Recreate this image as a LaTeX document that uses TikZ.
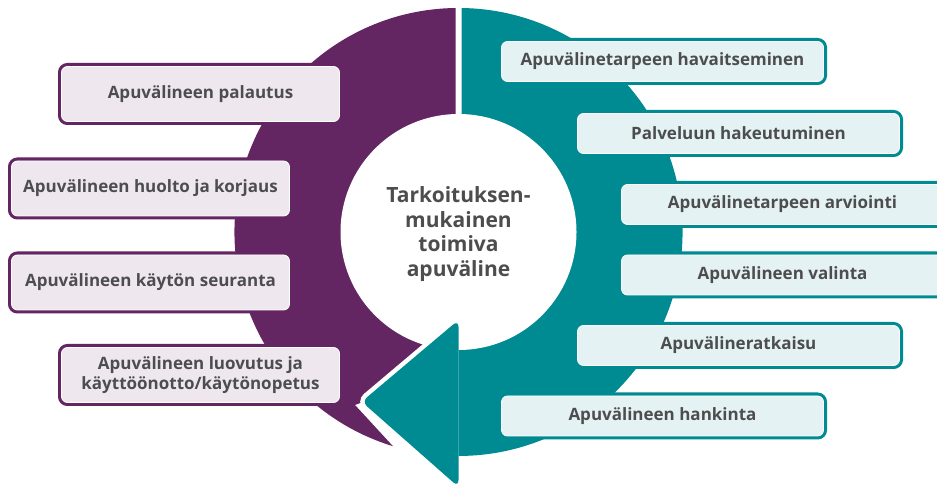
\documentclass[tikz,border=0pt]{standalone}
\usepackage{fontspec}
\setmainfont{Open Sans}
\usepackage{tikz}

\definecolor{ringpurple}{RGB}{100,37,99}
\definecolor{ringteal}{RGB}{0,138,145}
\definecolor{boxpurple}{RGB}{239,231,238}
\definecolor{boxteal}{RGB}{228,242,243}
\definecolor{textgray}{RGB}{77,77,79}

\tikzset{
  stagebox/.style={rounded corners=6pt, draw=white, line width=0.8pt, inner sep=0pt,
    minimum height=#1, align=center, text=textgray, font=\fontsize{17}{20}\selectfont\bfseries},
  leftstage/.style={stagebox=55pt, fill=boxpurple, minimum width=278pt,
    preaction={draw=ringpurple, line width=7pt}},
  rightstage/.style={stagebox=40pt, fill=boxteal, minimum width=322pt,
    preaction={draw=ringteal, line width=7pt}},
}

\begin{document}
\begin{tikzpicture}[x=1pt, y=1pt]
			%%%%% START %%%%%
			\clip (0, 0) rectangle (937, 490);
			
			% left half of the ring
			\fill[ringpurple] (455.7, 258) -- (455.7, 482) arc[start angle=90.7, end angle=253, radius=224]
				-- (355, 85) -- (420, 110) -- cycle;
			% right half of the ring
			\fill[ringteal] (461.7, 258) -- (461.7, 482) arc[start angle=89.2, end angle=-90, radius=224]
				-- (458.5, 258) -- cycle;
			\fill[white] (458.5, 258) circle (118);
			
			% arrow head
			\draw[white, line width=9pt, rounded corners=7pt] (458.5, 170) -- (361.7, 88.3) -- (458.5, 3);
			\fill[ringteal, rounded corners=7pt] (458.5, 170) -- (361.7, 88.3) -- (458.5, 3) -- cycle;
			
			\node[text=textgray, align=center, font=\fontsize{21}{24.5}\selectfont\bfseries] (tavoite) at (458.5, 256)
				{Tarkoituksen-\\mukainen\\toimiva\\apuväline};
			
			\node[leftstage] (palautus) at (200.5, 396) {Apuvälineen palautus};
			\node[leftstage] (huolto) at (150.5, 301.5) {Apuvälineen huolto ja korjaus};
			\node[leftstage] (seuranta) at (150.5, 207.5) {Apuvälineen käytön seuranta};
			\node[leftstage] (luovutus) at (200.5, 115) {Apuvälineen luovutus ja\\käyttöönotto/käytönopetus};
			
			\node[rightstage] (havaitseminen) at (662.5, 428.5) {Apuvälinetarpeen havaitseminen};
			\node[rightstage] (hakeutuminen) at (738.5, 356.5) {Palveluun hakeutuminen};
			\node[rightstage] (arviointi) at (782.5, 285.5) {Apuvälinetarpeen arviointi};
			\node[rightstage] (valinta) at (782.5, 215) {Apuvälineen valinta};
			\node[rightstage] (ratkaisu) at (738.5, 144.5) {Apuvälineratkaisu};
			\node[rightstage] (hankinta) at (662.5, 74) {Apuvälineen hankinta};
			
			%%%%% END %%%%%
		\end{tikzpicture}
\end{document}
